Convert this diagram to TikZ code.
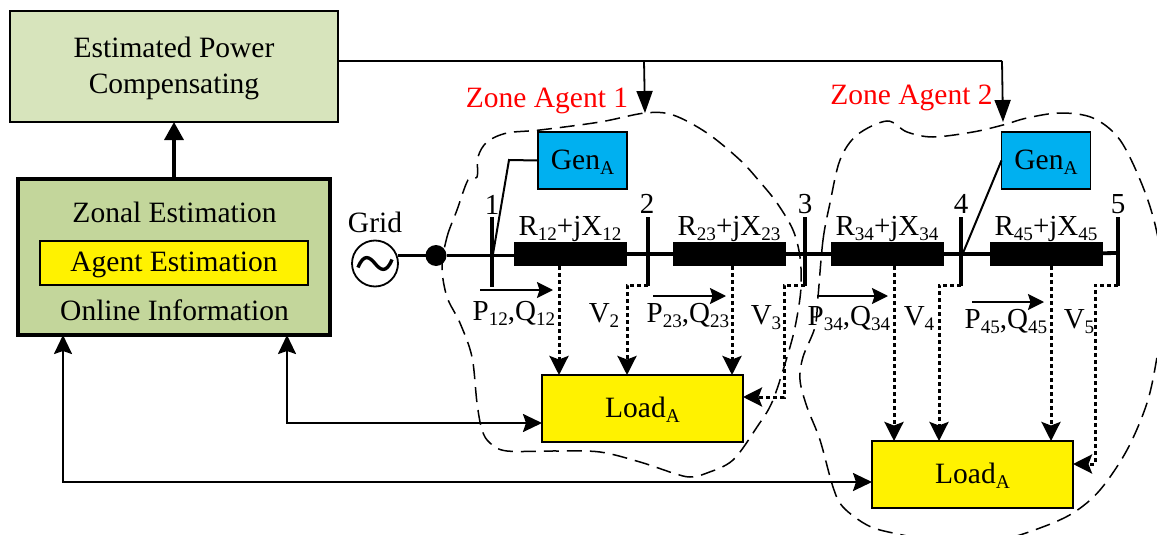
\documentclass[tikz,border=0pt]{standalone}
\usepackage{fontspec}
\setmainfont{Liberation Serif}
\usetikzlibrary{arrows.meta,calc}
\definecolor{estfill}{HTML}{D7E4BC}
\definecolor{zonfill}{HTML}{C3D69B}
\definecolor{genfill}{HTML}{00B0F0}
\newcommand\Sb[1]{\raisebox{-.2em}{\scalebox{.66}{#1}}}
\tikzset{
  txt/.style={font=\fontsize{29.5}{35}\selectfont,inner sep=0pt,outer sep=0pt},
  lab/.style={txt,font=\fontsize{29}{34}\selectfont,anchor=base},
  boxbase/.style={draw=black,line width=1.8pt,inner sep=0pt,outer sep=0pt,txt},
  textbox/.style={boxbase,text height=20pt,text depth=3pt},
  genbox/.style={textbox,fill=genfill,minimum width=89pt,minimum height=57pt},
  loadbox/.style={textbox,fill=yellow,minimum width=201pt,minimum height=67pt},
  zone/.style={draw=black,line width=1.5pt,dash pattern=on 15pt off 8pt},
  imped/.style={fill=black,draw=none,inner sep=0pt,outer sep=0pt,minimum width=113pt,minimum height=24pt},
  bus/.style={line width=4pt},
  mainline/.style={line width=3.8pt},
  sig/.style={line width=2pt},
  sigtop/.style={line width=1.8pt,-{Triangle[length=22pt,width=16pt]}},
  flow/.style={line width=1.8pt,-{Stealth[length=16pt,width=16pt,inset=2.5pt]}},
  meas/.style={line width=3pt,dash pattern=on 4pt off 3pt,-{Stealth[length=19pt,width=19pt,inset=3.5pt]}},
  both/.style={line width=2.2pt,{Stealth[length=19pt,width=18pt,inset=3pt]}-{Stealth[length=19pt,width=18pt,inset=3pt]}}
}
\begin{document}
\begin{tikzpicture}[x=1pt,y=-1pt]
\useasboundingbox (0,0) rectangle (1157,535);
\begin{scope}
\clip (0,0) rectangle (1157,535);
\draw[zone] plot[smooth cycle,tension=.55] coordinates {
 (442,267) (447,237) (457,210) (468,180) (477,177) (478,157) (487,142) (507,133) (540,130) (600,122) (645,113) (673,115) (707,133) (740,160) (760,182) (777,203) (793,230) (800,257) (801,287) (797,317) (790,347) (773,400) (757,427) (733,460) (707,473) (690,477) (673,473) (640,462) (600,452) (557,451) (507,451) (490,443) (482,430) (477,403) (472,357) (460,323) (447,297)};
\draw[zone] plot[smooth cycle,tension=.55] coordinates {
 (818,297) (823,240) (830,203) (840,160) (857,135) (887,121) (907,132) (933,137) (973,132) (1003,125) (1027,118) (1060,113) (1093,118) (1120,140) (1143,187) (1157,233) (1166,295) (1157,357) (1147,403) (1127,450) (1100,490) (1073,513) (1040,528) (1000,540) (950,543) (893,533) (867,525) (843,507) (833,487) (820,440) (807,407) (800,380) (803,357) (815,327)};
\end{scope}
% boxes
\node[boxbase,fill=estfill,minimum width=328pt,minimum height=111pt] (est) at (174,66.5) {};
\node[txt,anchor=base] (est1) at (174,58) {Estimated Power};
\node[txt,anchor=base] (est2) at (174,94) {Compensating};
\node[boxbase,fill=zonfill,line width=3.4pt,minimum width=312pt,minimum height=156pt] (zonal) at (174,257) {};
\node[textbox,fill=yellow,minimum width=268pt,minimum height=44pt] (agent) at (174,263) {Agent Estimation};
\node[txt,anchor=base] (zonaltxt) at (174.5,222) {Zonal Estimation};
\node[txt,anchor=base] (onlinetxt) at (174.5,320) {Online Information};
\node[genbox] (gen1) at (582.5,160.5) {Gen\Sb{A}};
\node[genbox] (gen2) at (1046,160.5) {Gen\Sb{A}};
\node[loadbox] (load1) at (642.5,408.5) {Load\Sb{A}};
\node[loadbox] (load2) at (972.5,474.5) {Load\Sb{A}};
% grid
\node[draw=black,line width=1.8pt,circle,minimum size=46pt,inner sep=0pt,outer sep=0pt] (grid) at (375,263.5) {};
\draw[line width=3.4pt] ($(grid)+(-17,4)$) .. controls ($(grid)+(-11,-11)$) and ($(grid)+(-5,-6)$) .. (grid.center) .. controls ($(grid)+(5,6)$) and ($(grid)+(11,11)$) .. ($(grid)+(17,-4)$);
\node[txt,anchor=base] (gridtxt) at (375,232) {Grid};
\node[fill=black,circle,minimum size=21pt,inner sep=0pt,outer sep=0pt] (dot) at (436,255.5) {};
% buses
\coordinate (b1t) at (492,217); \coordinate (b1b) at (492,287);
\coordinate (b2t) at (648,217); \coordinate (b2b) at (648,286);
\coordinate (b3t) at (805,217); \coordinate (b3b) at (805,286);
\coordinate (b4t) at (961,217); \coordinate (b4b) at (961,286);
\coordinate (b5t) at (1118,217); \coordinate (b5b) at (1118,286);
\coordinate (b5m) at (1118,253);
\foreach \n in {1,...,5} \draw[bus] (b\n t) -- (b\n b);
\node[imped] (z12) at (570.5,254) {};
\node[imped] (z23) at (729.5,254) {};
\node[imped] (z34) at (887.5,254) {};
\node[imped] (z45) at (1046.5,254) {};
\draw[mainline] (grid.east |- dot) -- (dot) -- (z12.west |- dot);
\draw[mainline] (z12) -- (z23);
\draw[mainline] (z23) -- (z34);
\draw[mainline] (z34) -- (z45);
\draw[mainline] (z45) -- (b5m);
\node[lab] (n1) at (492,214) {1};
\node[lab] (n2) at (647,213) {2};
\node[lab] (n3) at (805,213) {3};
\node[lab] (n4) at (961,213) {4};
\node[lab] (n5) at (1118,213) {5};
\node[lab] (r12) at (570,235) {R\Sb{12}+jX\Sb{12}};
\node[lab] (r23) at (729,235) {R\Sb{23}+jX\Sb{23}};
\node[lab] (r34) at (887,235) {R\Sb{34}+jX\Sb{34}};
\node[lab] (r45) at (1046,235) {R\Sb{45}+jX\Sb{45}};
% gen links
\coordinate (g1k) at (509,160);
\coordinate (g1e) at (493,254);
\coordinate (g2e) at (963,253);
\draw[sig] (gen1.west) -- (g1k) -- (g1e);
\draw[sig] (gen2.west) -- (g2e);
% top feed
\coordinate (tr) at (1002,61);
\coordinate (tb) at (644,61);
\coordinate (zt1) at (645,113);
\coordinate (zt2) at (1003,122);
\draw[sig] (est.east |- tr) -- (tr);
\draw[sigtop] (tr) -- (zt2);
\draw[sigtop] (tb) -- (zt1);
\draw[line width=3.4pt,-{Triangle[length=18pt,width=19pt]}] (zonal.north) -- (est.south);
% flows
\coordinate (f1a) at (480,290); \coordinate (f1b) at (553,290);
\coordinate (f2a) at (653,296); \coordinate (f2b) at (726,296);
\coordinate (f3a) at (817,296); \coordinate (f3b) at (888,296);
\coordinate (f4a) at (972,302); \coordinate (f4b) at (1044,302);
\foreach \n in {1,...,4} \draw[flow] (f\n a) -- (f\n b);
\node[lab] (p12) at (514,320) {P\Sb{12},Q\Sb{12}};
\node[lab] (v2) at (604,322) {V\Sb{2}};
\node[lab] (p23) at (688,322) {P\Sb{23},Q\Sb{23}};
\node[lab] (v3) at (766,324) {V\Sb{3}};
\node[lab] (p34) at (849,325) {P\Sb{34},Q\Sb{34}};
\node[lab] (v4) at (919,325) {V\Sb{4}};
\node[lab] (p45) at (1006,328) {P\Sb{45},Q\Sb{45}};
\node[lab] (v5) at (1079,328) {V\Sb{5}};
% measurements
\coordinate (m2) at (627,285); \coordinate (m3) at (784,285);
\coordinate (m4) at (939,285); \coordinate (m5) at (1095,285);
\coordinate (m3c) at (784,397); \coordinate (m5c) at (1095,464);
\draw[meas] (z12.south -| 559,0) -- (load1.north -| 559,0);
\draw[meas] (z23.south -| 732,0) -- (load1.north -| 732,0);
\draw[meas] (z34.south -| 894,0) -- (load2.north -| 894,0);
\draw[meas] (z45.south -| 1051,0) -- (load2.north -| 1051,0);
\draw[meas] (b2b |- m2) -- (m2) -- (load1.north -| m2);
\draw[meas] (b4b |- m4) -- (m4) -- (load2.north -| m4);
\draw[meas] (b3b |- m3) -- (m3) -- (m3c) -- (load1.east |- m3c);
\draw[meas] (b5b |- m5) -- (m5) -- (m5c) -- (load2.east |- m5c);
% bidirectional
\coordinate (c1) at (287,423);
\coordinate (c2) at (63,482);
\draw[both] (zonal.south -| c1) -- (c1) -- (load1.west |- c1);
\draw[both] (zonal.south -| c2) -- (c2) -- (load2.west |- c2);
% zone labels
\node[txt,anchor=base,text=red] (za1) at (547,107) {Zone Agent 1};
\node[txt,anchor=base,text=red] (za2) at (911.5,104) {Zone Agent 2};
\end{tikzpicture}
\end{document}
